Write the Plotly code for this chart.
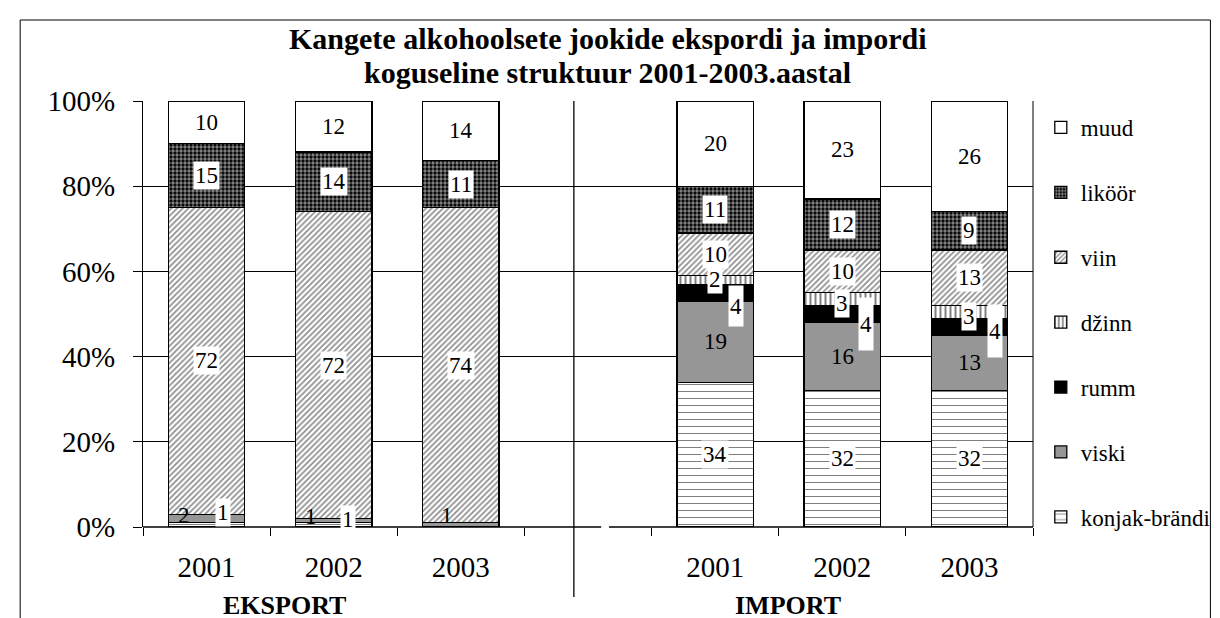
import plotly.graph_objects as go

# ---------------- data ----------------
categories = ["E2001", "E2002", "E2003", "gap", "I2001", "I2002", "I2003"]
tick_labels = ["2001", "2002", "2003", "", "2001", "2002", "2003"]

konjak = [1, 1, 0, None, 34, 32, 32]
viski = [2, 1, 1, None, 19, 16, 13]
rumm = [0, 0, 0, None, 4, 4, 4]
dzinn = [0, 0, 0, None, 2, 3, 3]
viin = [72, 72, 74, None, 10, 10, 13]
likoor = [15, 14, 11, None, 11, 12, 9]
muud = [10, 12, 14, None, 20, 23, 26]

series = [
    ("konjak-brändi", konjak),
    ("viski", viski),
    ("rumm", rumm),
    ("džinn", dzinn),
    ("viin", viin),
    ("liköör", likoor),
    ("muud", muud),
]

title_lines = ["Kangete alkohoolsete jookide ekspordi ja impordi",
               "koguseline struktuur 2001-2003.aastal"]
group_labels = ["EKSPORT", "IMPORT"]

# ---------------- styles ----------------
FONT = "Liberation Serif"
styles = {
    "konjak-brändi": dict(color="white", pattern=dict(shape="-", fgcolor="#000", bgcolor="white", size=7, solidity=0.15)),
    "viski": dict(color="#969696"),
    "rumm": dict(color="#000000"),
    "džinn": dict(color="white", pattern=dict(shape="|", fgcolor="#000", bgcolor="white", size=5, solidity=0.4)),
    "viin": dict(color="white", pattern=dict(shape="/", fgcolor="#222", bgcolor="white", size=4, solidity=0.45)),
    "liköör": dict(color="#000", pattern=dict(shape=".", fgcolor="white", bgcolor="#000", size=4, solidity=0.55)),
    "muud": dict(color="white"),
}
# label placement tweaks (pixels) and box options
label_tweaks = {
    ("viski", "E2001"): dict(xshift=-23, yshift=3),
    ("konjak-brändi", "E2001"): dict(xshift=16, yshift=12),
    ("viski", "E2002"): dict(xshift=-23, yshift=4),
    ("konjak-brändi", "E2002"): dict(xshift=14, yshift=5),
    ("viski", "E2003"): dict(xshift=-14, yshift=9),
    ("rumm", "I2001"): dict(xshift=21, yshift=-13, height=38),
    ("rumm", "I2002"): dict(xshift=24, yshift=-10, height=50),
    ("rumm", "I2003"): dict(xshift=26, yshift=-4, height=50),
    ("džinn", "I2002"): dict(yshift=-4),
    ("džinn", "I2003"): dict(yshift=-5),
}
no_box = {"viski"}
legend_rank = {name: 100 - i for i, (name, _) in enumerate(series)}

# plot-area geometry in pixels
W, H = 1220, 618
L, R, T, B = 135, 1048, 93, 519


def px(x):
    return (x - L) / (R - L)


def py(y):
    return (B - y) / (B - T)


fig = go.Figure()
for name, vals in series:
    st = styles[name]
    marker = dict(color=st["color"], line=dict(color="#000", width=1.3))
    if "pattern" in st:
        marker["pattern"] = st["pattern"]
    fig.add_trace(go.Bar(
        x=categories, y=vals, name=name, marker=marker, width=0.6,
        legendgroup=name, legendrank=legend_rank[name], hoverinfo="skip",
    ))

annotations = []
cum = [0.0] * len(categories)
for name, vals in series:
    for j, v in enumerate(vals):
        if v is None:
            continue
        if v > 0:
            tw = label_tweaks.get((name, categories[j]), {})
            ann = dict(
                x=categories[j], y=cum[j] + v / 2, xref="x", yref="y",
                text=str(v), showarrow=False,
                font=dict(family=FONT, size=23, color="#000"),
                xshift=tw.get("xshift", 0), yshift=tw.get("yshift", 0),
                borderpad=1,
            )
            if name not in no_box:
                ann["bgcolor"] = "white"
            if "height" in tw:
                ann["height"] = tw["height"]
            annotations.append(ann)
        cum[j] += v

# title
for line, ty in zip(title_lines, [31, 64]):
    annotations.append(dict(x=px(612), y=py(ty), xref="paper", yref="paper", text="<b>%s</b>" % line,
                            xanchor="center", yanchor="middle",
                            showarrow=False, font=dict(family=FONT, size=30, color="#000")))
# group labels
for txt, cx in zip(group_labels, [280, 797]):
    annotations.append(dict(x=px(cx), y=py(597), xref="paper", yref="paper", text="<b>%s</b>" % txt,
                            xanchor="center", yanchor="middle",
                            showarrow=False, font=dict(family=FONT, size=26, color="#000")))

shapes = [
    # outer frame
    dict(type="rect", xref="paper", yref="paper", x0=px(9), x1=px(1230), y0=py(12), y1=py(640),
         line=dict(color="#000", width=1), layer="below"),
    # x-axis line with gap
    dict(type="line", xref="paper", yref="paper", x0=0, x1=px(605), y0=0, y1=0, line=dict(color="#000", width=1.3)),
    dict(type="line", xref="paper", yref="paper", x0=px(613), x1=1, y0=0, y1=0, line=dict(color="#000", width=1.3)),
    # right border of plot area
    dict(type="line", xref="paper", yref="paper", x0=1, x1=1, y0=0, y1=1, line=dict(color="#000", width=1)),
    # divider
    dict(type="line", xref="paper", yref="paper", x0=px(577), x1=px(577), y0=1, y1=py(589),
         line=dict(color="#000", width=1.3)),
]

fig.update_layout(
    width=W, height=H,
    margin=dict(l=L, r=W - R, t=T, b=H - B),
    paper_bgcolor="white", plot_bgcolor="white",
    barmode="stack", bargap=0.4,
    showlegend=True,
    legend=dict(x=px(1056), y=py(98), xanchor="left", yanchor="top",
                traceorder="grouped", tracegroupgap=32,
                font=dict(family=FONT, size=23, color="#000"),
                bgcolor="rgba(0,0,0,0)", itemwidth=30),
    annotations=annotations,
    shapes=shapes,
    font=dict(family=FONT, color="#000"),
)
fig.update_xaxes(
    type="category", categoryorder="array", categoryarray=categories,
    tickvals=categories, ticktext=tick_labels,
    tickson="boundaries", ticks="outside", ticklen=8, tickcolor="#000", tickwidth=1,
    showline=False, showgrid=False, zeroline=False,
    tickfont=dict(family=FONT, size=29, color="#000"),
    ticklabelstandoff=20,
    range=[-0.5, 6.5],
)
fig.update_yaxes(
    range=[0, 100], tickvals=[0, 20, 40, 60, 80, 100],
    ticktext=["0%", "20%", "40%", "60%", "80%", "100%"],
    ticks="outside", ticklen=9, tickcolor="#000",
    showline=True, linecolor="#000", linewidth=1.3,
    showgrid=True, gridcolor="#000", gridwidth=1, zeroline=False,
    tickfont=dict(family=FONT, size=29, color="#000"),
    ticklabelstandoff=12,
)

fig.write_html("out.html")
